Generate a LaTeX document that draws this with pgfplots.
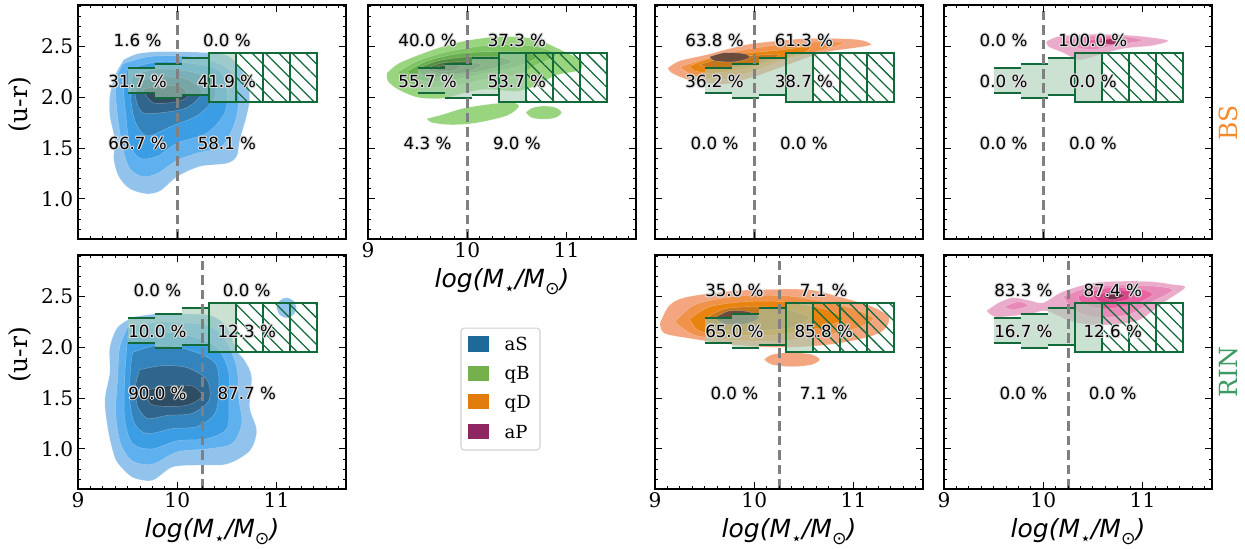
\documentclass[border=0pt]{standalone}
\usepackage{pgfplots}
\pgfplotsset{compat=1.18}
\usepackage{fontspec}
\setmainfont{DejaVu Serif}
\newfontfamily\dvsans{DejaVu Sans}
\usetikzlibrary{patterns.meta}

\definecolor{b1}{HTML}{92C3EC}\definecolor{b2}{HTML}{5FB0EE}\definecolor{b3}{HTML}{3B9DE3}
\definecolor{b4}{HTML}{3383BD}\definecolor{b5}{HTML}{30668E}\definecolor{b6}{HTML}{2E4D63}
\definecolor{g1}{HTML}{99D47E}\definecolor{g2}{HTML}{7FC463}\definecolor{g3}{HTML}{67AF4E}
\definecolor{g4}{HTML}{558F41}\definecolor{g5}{HTML}{4A7439}\definecolor{g6}{HTML}{415A36}
\definecolor{o1}{HTML}{F3A67F}\definecolor{o2}{HTML}{F0924A}\definecolor{o3}{HTML}{E8830F}
\definecolor{o4}{HTML}{C57619}\definecolor{o5}{HTML}{956230}\definecolor{o6}{HTML}{6A4B3C}
\definecolor{p1}{HTML}{EAACCB}\definecolor{p2}{HTML}{E88AB8}\definecolor{p3}{HTML}{E964A2}
\definecolor{p4}{HTML}{D9438A}\definecolor{p5}{HTML}{A83466}\definecolor{p6}{HTML}{6D2E48}
\definecolor{dgreen}{HTML}{12693A}
\definecolor{boxfill}{HTML}{A9CFB6}
\definecolor{laS}{HTML}{1D6A98}\definecolor{lqB}{HTML}{74B04C}
\definecolor{lqD}{HTML}{E17C0C}\definecolor{laP}{HTML}{8E2761}
\definecolor{bscol}{HTML}{F58A2D}\definecolor{rincol}{HTML}{3D9A64}

\pgfplotsset{panel/.style={
  width=192.96pt, height=168.48pt, scale only axis, anchor=north west,
  xmin=9, xmax=11.7, ymin=0.605, ymax=2.91,
  xtick={9,10,11}, xticklabels={9,10,11},
  ytick={1,1.5,2,2.5}, yticklabels={1.0,1.5,2.0,2.5},
  minor xtick={9.125,9.25,9.375,9.5,9.625,9.75,9.875,10.125,10.25,10.375,10.5,10.625,10.75,10.875,11.125,11.25,11.375,11.5,11.625},
  minor ytick={0.7,0.8,0.9,1.1,1.2,1.3,1.4,1.6,1.7,1.8,1.9,2.1,2.2,2.3,2.4,2.6,2.7,2.8,2.9},
  tick align=inside, major tick length=5pt, minor tick length=2.5pt,
  every tick/.style={black, line width=0.6pt},
  axis line style={line width=0.8pt},
  tick label style={font=\fontsize{14.5}{14.5}\selectfont},
  xticklabel style={anchor=base, yshift=-13pt},
  axis on top,
  xlabel style={at={(axis description cs:0.5,-0.207)}, anchor=base, font=\dvsans\itshape\fontsize{18}{18}\selectfont},
  ylabel style={at={(axis description cs:-0.215,0.573)}, anchor=center, font=\fontsize{18}{18}\selectfont},
},
kde/.style={fill=#1, draw=white, draw opacity=0.35, line width=0.3pt, smooth},
thr/.style={draw=gray, line width=2.2pt, dash pattern=on 7pt off 3.5pt},
}
\tikzset{halo/.style={text=black!13, font=\dvsans\fontsize{12}{12}\selectfont, inner sep=0pt},
         pctt/.style={text=black, font=\dvsans\fontsize{12}{12}\selectfont, inner sep=0pt}}

\newcommand{\xlab}{log(M\raisebox{-0.3em}{\upshape\fontsize{12.5}{12.5}\selectfont ⋆}/M\raisebox{-0.3em}{\upshape\fontsize{12.5}{12.5}\selectfont ⊙})}

\newcommand{\pct}[3]{%
  \node[halo,xshift=0.8pt] at (axis cs:#1,#2) {#3};
  \node[halo,xshift=-0.8pt] at (axis cs:#1,#2) {#3};
  \node[halo,yshift=0.8pt] at (axis cs:#1,#2) {#3};
  \node[halo,yshift=-0.8pt] at (axis cs:#1,#2) {#3};
  \node[halo,xshift=0.6pt,yshift=0.6pt] at (axis cs:#1,#2) {#3};
  \node[halo,xshift=-0.6pt,yshift=0.6pt] at (axis cs:#1,#2) {#3};
  \node[halo,xshift=0.6pt,yshift=-0.6pt] at (axis cs:#1,#2) {#3};
  \node[halo,xshift=-0.6pt,yshift=-0.6pt] at (axis cs:#1,#2) {#3};
  \node[pctt] at (axis cs:#1,#2) {#3};}
\newcommand{\pcts}[8]{\pct{#1}{2.56}{#3}\pct{#2}{2.56}{#4}\pct{#1}{2.16}{#5}\pct{#2}{2.16}{#6}\pct{#1}{1.55}{#7}\pct{#2}{1.55}{#8}}

\newcommand{\boxes}{%
  \addplot[draw=none, fill=boxfill, fill opacity=0.6] coordinates {(9.5,2.04)(9.773,2.04)(9.773,2.29)(9.5,2.29)} --cycle;
  \addplot[draw=none, fill=boxfill, fill opacity=0.6] coordinates {(9.773,1.99)(10.045,1.99)(10.045,2.33)(9.773,2.33)} --cycle;
  \addplot[draw=none, fill=boxfill, fill opacity=0.6] coordinates {(10.045,2.02)(10.318,2.02)(10.318,2.39)(10.045,2.39)} --cycle;
  \addplot[dgreen, line width=1.5pt] coordinates {(9.5,2.04)(9.773,2.04)};
  \addplot[dgreen, line width=1.5pt] coordinates {(9.5,2.29)(9.773,2.29)};
  \addplot[dgreen, line width=1.5pt] coordinates {(9.773,1.99)(10.045,1.99)};
  \addplot[dgreen, line width=1.5pt] coordinates {(9.773,2.33)(10.045,2.33)};
  \addplot[dgreen, line width=1.5pt] coordinates {(10.045,2.02)(10.318,2.02)};
  \addplot[dgreen, line width=1.5pt] coordinates {(10.045,2.39)(10.318,2.39)};
  \addplot[draw=dgreen, line width=1.2pt, fill=boxfill, fill opacity=0.6] coordinates {(10.318,1.955)(10.59,1.955)(10.59,2.44)(10.318,2.44)} --cycle;
  \addplot[draw=dgreen, line width=1.2pt, pattern={Lines[angle=-45,distance=6.8pt,line width=0.9pt]}, pattern color=dgreen] coordinates {(10.59,1.955)(10.864,1.955)(10.864,2.44)(10.59,2.44)} --cycle;
  \addplot[draw=dgreen, line width=1.2pt, pattern={Lines[angle=-45,distance=6.8pt,line width=0.9pt]}, pattern color=dgreen] coordinates {(10.864,1.955)(11.136,1.955)(11.136,2.44)(10.864,2.44)} --cycle;
  \addplot[draw=dgreen, line width=1.2pt, pattern={Lines[angle=-45,distance=6.8pt,line width=0.9pt]}, pattern color=dgreen] coordinates {(11.136,1.955)(11.41,1.955)(11.41,2.44)(11.136,2.44)} --cycle;
}
\newcommand{\thr}[1]{\addplot[thr] coordinates {(#1,0.605)(#1,2.91)};}

\begin{document}
\begin{tikzpicture}
\useasboundingbox (0pt,0pt) rectangle (896.4pt,-395.28pt);

% ---------- top row, aS / BS
\begin{axis}[panel, at={(56.16pt,-3.6pt)}, xticklabels={}, ylabel={(u-r)}]
\addplot[kde=b1] coordinates {(9.46,2.37)(9.6,2.43)(9.83,2.45)(10.31,2.44)(10.53,2.40)(10.68,2.21)(10.73,2.01)(10.70,1.82)(10.63,1.58)(10.60,1.42)(10.50,1.35)(10.23,1.32)(10.0,1.22)(9.83,1.08)(9.69,1.05)(9.52,1.10)(9.41,1.22)(9.36,1.39)(9.37,1.58)(9.32,1.82)(9.32,2.01)(9.37,2.21)(9.46,2.37)};
\addplot[kde=b2] coordinates {(9.45,2.33)(9.7,2.40)(10.0,2.41)(10.3,2.38)(10.55,2.25)(10.62,2.0)(10.58,1.75)(10.45,1.52)(10.2,1.45)(10.0,1.38)(9.8,1.25)(9.65,1.22)(9.52,1.3)(9.45,1.5)(9.40,1.8)(9.38,2.05)(9.40,2.22)(9.45,2.33)};
\addplot[kde=b3] coordinates {(9.5,2.28)(9.8,2.35)(10.1,2.34)(10.4,2.28)(10.5,2.1)(10.48,1.85)(10.3,1.65)(10.0,1.55)(9.8,1.42)(9.62,1.40)(9.52,1.55)(9.48,1.85)(9.46,2.1)(9.5,2.28)};
\addplot[kde=b4] coordinates {(9.55,2.22)(9.8,2.28)(10.1,2.26)(10.35,2.18)(10.38,2.0)(10.2,1.82)(9.95,1.72)(9.7,1.62)(9.58,1.75)(9.53,2.0)(9.55,2.22)};
\addplot[kde=b5] coordinates {(9.6,2.16)(9.85,2.2)(10.1,2.18)(10.25,2.05)(10.1,1.9)(9.85,1.85)(9.65,1.85)(9.58,2.0)(9.6,2.16)};
\addplot[kde=b6] coordinates {(9.65,2.08)(9.85,2.12)(10.05,2.1)(10.1,2.0)(9.95,1.95)(9.75,1.95)(9.65,2.08)};
\boxes
\thr{10}
\pcts{9.6}{10.5}{1.6 \%}{0.0 \%}{31.7 \%}{41.9 \%}{66.7 \%}{58.1 \%}
\end{axis}

% ---------- top row, qB / BS
\begin{axis}[panel, at={(264.96pt,-3.6pt)}, yticklabels={}, xlabel={\xlab}]
\addplot[kde=g1] coordinates {(9.19,2.24)(9.3,2.33)(9.49,2.41)(9.75,2.5)(10.0,2.56)(10.33,2.60)(10.67,2.58)(10.83,2.52)(11.0,2.44)(11.14,2.37)(11.14,2.27)(10.9,2.22)(10.7,2.12)(10.5,2.06)(10.2,2.08)(10.0,2.05)(9.75,1.99)(9.5,2.0)(9.3,2.08)(9.2,2.16)(9.19,2.24)};
\addplot[kde=g1] coordinates {(9.59,1.79)(9.75,1.83)(9.95,1.89)(10.2,1.93)(10.45,1.95)(10.52,1.91)(10.4,1.82)(10.1,1.75)(9.85,1.73)(9.65,1.75)(9.59,1.79)};
\addplot[kde=g1] coordinates {(10.59,1.85)(10.65,1.895)(10.77,1.915)(10.89,1.9)(10.95,1.85)(10.89,1.80)(10.77,1.785)(10.65,1.80)(10.59,1.85)};
\addplot[kde=g2] coordinates {(9.3,2.25)(9.5,2.36)(9.8,2.45)(10.1,2.5)(10.4,2.52)(10.7,2.5)(10.9,2.42)(10.7,2.32)(10.5,2.22)(10.2,2.18)(9.9,2.12)(9.6,2.1)(9.4,2.15)(9.3,2.25)};
\addplot[kde=g3] coordinates {(9.4,2.26)(9.6,2.36)(9.9,2.43)(10.2,2.45)(10.5,2.45)(10.7,2.4)(10.5,2.3)(10.2,2.24)(9.9,2.18)(9.6,2.16)(9.45,2.2)(9.4,2.26)};
\addplot[kde=g4] coordinates {(9.5,2.28)(9.7,2.36)(10.0,2.4)(10.3,2.4)(10.45,2.35)(10.2,2.27)(9.9,2.22)(9.6,2.2)(9.5,2.28)};
\addplot[kde=g5] coordinates {(9.58,2.28)(9.75,2.34)(10.0,2.35)(10.15,2.32)(10.0,2.25)(9.75,2.23)(9.58,2.28)};
\addplot[kde=g6] coordinates {(9.65,2.29)(9.8,2.32)(9.95,2.31)(9.85,2.26)(9.7,2.26)(9.65,2.29)};
\boxes
\thr{10}
\pcts{9.6}{10.5}{40.0 \%}{37.3 \%}{55.7 \%}{53.7 \%}{4.3 \%}{9.0 \%}
\end{axis}

% ---------- top row, qD / BS
\begin{axis}[panel, at={(471.6pt,-3.6pt)}, xticklabels={}, yticklabels={}]
\addplot[kde=o1] coordinates {(9.13,2.29)(9.25,2.36)(9.52,2.42)(9.75,2.48)(9.99,2.53)(10.53,2.58)(11.03,2.57)(11.18,2.52)(11.03,2.49)(10.69,2.44)(10.36,2.33)(9.99,2.20)(9.69,2.13)(9.35,2.17)(9.17,2.24)(9.13,2.29)};
\addplot[kde=o2] coordinates {(9.25,2.30)(9.5,2.38)(9.8,2.45)(10.1,2.5)(10.5,2.54)(10.9,2.54)(10.7,2.47)(10.35,2.38)(10.0,2.26)(9.7,2.18)(9.4,2.21)(9.25,2.30)};
\addplot[kde=o3] coordinates {(9.35,2.31)(9.55,2.38)(9.85,2.43)(10.2,2.46)(10.55,2.5)(10.5,2.44)(10.2,2.36)(9.9,2.28)(9.6,2.24)(9.4,2.26)(9.35,2.31)};
\addplot[kde=o4] coordinates {(9.45,2.32)(9.65,2.38)(9.95,2.41)(10.25,2.42)(10.1,2.35)(9.85,2.3)(9.6,2.28)(9.45,2.32)};
\addplot[kde=o6] coordinates {(9.55,2.4)(9.7,2.44)(9.9,2.43)(9.95,2.39)(9.8,2.35)(9.6,2.36)(9.55,2.4)};
\boxes
\thr{10}
\pcts{9.6}{10.5}{63.8 \%}{61.3 \%}{36.2 \%}{38.7 \%}{0.0 \%}{0.0 \%}
\end{axis}

% ---------- top row, aP / BS
\begin{axis}[panel, at={(679.68pt,-3.6pt)}, xticklabels={}, yticklabels={}]
\addplot[kde=p1] coordinates {(10.03,2.55)(10.15,2.6)(10.4,2.62)(10.7,2.62)(11.0,2.6)(11.26,2.56)(11.1,2.51)(10.8,2.48)(10.5,2.4)(10.35,2.37)(10.2,2.44)(10.05,2.5)(10.03,2.55)};
\addplot[kde=p2] coordinates {(10.2,2.55)(10.45,2.6)(10.8,2.6)(11.0,2.56)(10.75,2.52)(10.5,2.47)(10.3,2.5)(10.2,2.55)};
\addplot[kde=p3] coordinates {(10.45,2.56)(10.65,2.59)(10.85,2.57)(10.7,2.53)(10.5,2.52)(10.45,2.56)};
\addplot[kde=p5] coordinates {(10.55,2.55)(10.7,2.58)(10.8,2.55)(10.68,2.52)(10.55,2.55)};
\boxes
\thr{10}
\pcts{9.6}{10.5}{0.0 \%}{100.0 \%}{0.0 \%}{0.0 \%}{0.0 \%}{0.0 \%}
\end{axis}

% ---------- bottom row, aS / RIN
\begin{axis}[panel, at={(56.16pt,-183.6pt)}, ylabel={(u-r)}, xlabel={\xlab}]
\addplot[kde=b1] coordinates {(9.56,2.30)(9.8,2.33)(10.1,2.33)(10.35,2.31)(10.5,2.2)(10.6,1.97)(10.68,1.87)(10.75,1.71)(10.73,1.41)(10.80,1.18)(10.73,0.98)(10.5,0.85)(10.2,0.84)(9.95,0.82)(9.75,0.69)(9.55,0.72)(9.40,0.86)(9.35,0.98)(9.30,1.2)(9.27,1.48)(9.32,1.75)(9.32,2.0)(9.4,2.2)(9.56,2.30)};
\addplot[kde=b1] coordinates {(11.0,2.39)(11.03,2.46)(11.1,2.49)(11.17,2.46)(11.2,2.39)(11.17,2.32)(11.1,2.29)(11.03,2.32)(11.0,2.39)};
\addplot[kde=b2] coordinates {(9.5,2.2)(9.8,2.25)(10.1,2.24)(10.35,2.2)(10.5,2.05)(10.6,1.8)(10.62,1.5)(10.65,1.25)(10.55,1.05)(10.3,1.0)(10.0,0.97)(9.75,0.85)(9.55,0.88)(9.43,1.05)(9.38,1.35)(9.4,1.7)(9.42,2.0)(9.5,2.2)};
\addplot[kde=b3] coordinates {(9.5,2.1)(9.8,2.15)(10.1,2.12)(10.4,2.0)(10.52,1.75)(10.52,1.45)(10.5,1.2)(10.3,1.1)(10.0,1.08)(9.75,1.0)(9.55,1.05)(9.47,1.3)(9.47,1.7)(9.5,2.1)};
\addplot[kde=b4] coordinates {(9.55,1.95)(9.8,2.02)(10.1,1.98)(10.38,1.85)(10.42,1.6)(10.38,1.35)(10.2,1.22)(9.95,1.2)(9.7,1.15)(9.57,1.25)(9.52,1.5)(9.53,1.8)(9.55,1.95)};
\addplot[kde=b5] coordinates {(9.62,1.78)(9.85,1.82)(10.1,1.8)(10.3,1.68)(10.32,1.48)(10.15,1.35)(9.9,1.33)(9.7,1.3)(9.6,1.42)(9.58,1.62)(9.62,1.78)};
\addplot[kde=b6] coordinates {(9.7,1.58)(9.9,1.62)(10.15,1.62)(10.25,1.52)(10.1,1.43)(9.85,1.42)(9.72,1.45)(9.7,1.58)};
\boxes
\thr{10.25}
\pcts{9.8}{10.7}{0.0 \%}{0.0 \%}{10.0 \%}{12.3 \%}{90.0 \%}{87.7 \%}
\end{axis}

% ---------- bottom row, qD / RIN
\begin{axis}[panel, at={(471.6pt,-183.6pt)}, yticklabels={}, xlabel={\xlab}]
\addplot[kde=o1] coordinates {(9.05,2.24)(9.15,2.42)(9.34,2.50)(9.85,2.56)(10.52,2.57)(10.85,2.50)(11.19,2.40)(11.36,2.29)(11.26,2.14)(10.85,2.04)(10.35,2.0)(9.85,2.02)(9.34,2.09)(9.09,2.14)(9.05,2.24)};
\addplot[kde=o1] coordinates {(10.1,1.88)(10.18,1.93)(10.38,1.95)(10.58,1.93)(10.66,1.88)(10.58,1.83)(10.38,1.81)(10.18,1.83)(10.1,1.88)};
\addplot[kde=o2] coordinates {(9.2,2.25)(9.4,2.42)(9.8,2.5)(10.3,2.51)(10.7,2.45)(11.0,2.38)(11.2,2.28)(11.0,2.18)(10.6,2.1)(10.2,2.06)(9.8,2.07)(9.4,2.12)(9.2,2.25)};
\addplot[kde=o3] coordinates {(9.35,2.28)(9.55,2.4)(9.9,2.45)(10.3,2.45)(10.7,2.38)(10.9,2.28)(10.6,2.18)(10.2,2.12)(9.8,2.12)(9.45,2.16)(9.35,2.28)};
\addplot[kde=o4] coordinates {(9.5,2.28)(9.7,2.38)(10.0,2.4)(10.3,2.38)(10.55,2.3)(10.4,2.2)(10.0,2.16)(9.65,2.18)(9.5,2.28)};
\addplot[kde=o6] coordinates {(9.6,2.29)(9.75,2.36)(9.95,2.35)(10.05,2.29)(9.9,2.23)(9.7,2.23)(9.6,2.29)};
\boxes
\thr{10.25}
\pcts{9.8}{10.7}{35.0 \%}{7.1 \%}{65.0 \%}{85.8 \%}{0.0 \%}{7.1 \%}
\end{axis}

% ---------- bottom row, aP / RIN
\begin{axis}[panel, at={(679.68pt,-183.6pt)}, yticklabels={}, xlabel={\xlab}]
\addplot[kde=p1] coordinates {(9.43,2.36)(9.55,2.44)(9.70,2.49)(9.87,2.46)(10.0,2.44)(10.2,2.55)(10.54,2.64)(11.04,2.65)(11.3,2.62)(11.43,2.59)(11.21,2.44)(10.94,2.26)(10.54,2.22)(10.27,2.26)(10.03,2.36)(9.87,2.33)(9.53,2.30)(9.43,2.36)};
\addplot[kde=p2] coordinates {(10.2,2.5)(10.5,2.6)(11.0,2.61)(11.3,2.57)(11.1,2.45)(10.85,2.32)(10.5,2.3)(10.3,2.38)(10.2,2.5)};
\addplot[kde=p2] coordinates {(9.6,2.4)(9.75,2.45)(9.85,2.41)(9.7,2.37)(9.6,2.4)};
\addplot[kde=p3] coordinates {(10.35,2.5)(10.6,2.58)(10.95,2.58)(11.1,2.52)(10.9,2.42)(10.6,2.38)(10.4,2.43)(10.35,2.5)};
\addplot[kde=p4] coordinates {(10.5,2.5)(10.7,2.56)(10.9,2.55)(10.85,2.47)(10.6,2.44)(10.5,2.5)};
\addplot[kde=p6] coordinates {(10.6,2.5)(10.72,2.53)(10.82,2.51)(10.7,2.47)(10.6,2.5)};
\boxes
\thr{10.25}
\pcts{9.8}{10.7}{83.3 \%}{87.4 \%}{16.7 \%}{12.6 \%}{0.0 \%}{0.0 \%}
\end{axis}

% ---------- legend
\draw[draw=black!18, line width=0.8pt, rounded corners=2.5pt, fill=white] (331.9pt,-236.2pt) rectangle (388.8pt,-324pt);
\fill[laS] (336.7pt,-242.1pt) rectangle (352.3pt,-253.3pt);
\fill[lqB] (336.7pt,-263.2pt) rectangle (352.3pt,-274.4pt);
\fill[lqD] (336.7pt,-283.6pt) rectangle (352.3pt,-294.8pt);
\fill[laP] (336.7pt,-305.2pt) rectangle (352.3pt,-316.4pt);
\node[anchor=base west, inner sep=0pt, font=\fontsize{13}{13}\selectfont] at (363.2pt,-252.4pt) {aS};
\node[anchor=base west, inner sep=0pt, font=\fontsize{13}{13}\selectfont] at (363.2pt,-273.5pt) {qB};
\node[anchor=base west, inner sep=0pt, font=\fontsize{13}{13}\selectfont] at (363.2pt,-293.9pt) {qD};
\node[anchor=base west, inner sep=0pt, font=\fontsize{13}{13}\selectfont] at (363.2pt,-315.5pt) {aP};

% ---------- row labels
\node[rotate=90, text=bscol, font=\fontsize{18}{18}\selectfont] at (884.2pt,-88.6pt) {BS};
\node[rotate=90, text=rincol, font=\fontsize{18}{18}\selectfont] at (884.2pt,-267.8pt) {RIN};
\end{tikzpicture}
\end{document}
